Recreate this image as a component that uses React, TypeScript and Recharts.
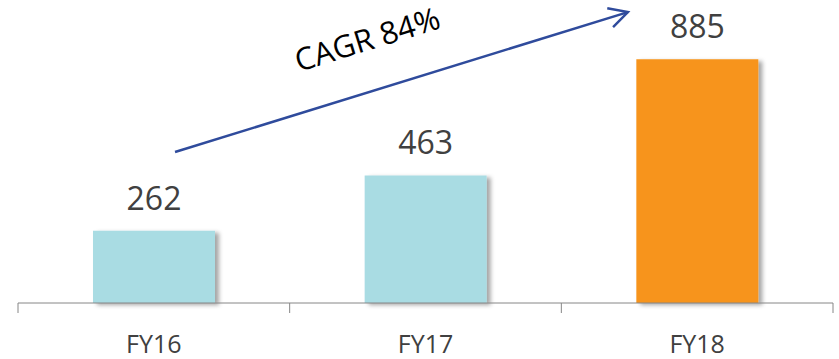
import React from "react";
import {
  BarChart,
  Bar,
  XAxis,
  YAxis,
  Cell,
  LabelList,
  ReferenceLine,
} from "recharts";

const years = ["FY16", "FY17", "FY18"];
const revenue = [262, 463, 885];
const barColors = ["#a9dce3", "#a9dce3", "#f7941d"];
// band centres on a 0..3 index axis, used to place the growth arrow
const bandCentre = [0.5, 1.5, 2.5];

// growth arrow, in data units (x on the 0..3 index axis)
const arrowFrom = { x: 0.578, y: 548 };
const arrowTo = { x: 2.245, y: 1056 };
const cagrText = "CAGR 84%";

const FONT = "'Open Sans', 'Noto Sans', sans-serif";

const data = years.map((year, i) => ({
  year,
  value: revenue[i],
  color: barColors[i],
  pos: bandCentre[i],
}));

function CategoryTick(props: any) {
  const { x, y, payload, index } = props;
  const half = payload?.offset ?? 135.8;
  const last = index === years.length - 1;
  return (
    <g>
      <line x1={x - half} y1={y} x2={x - half} y2={y + 10} stroke="#868686" strokeWidth={1} />
      {last && (
        <line x1={x + half} y1={y} x2={x + half} y2={y + 10} stroke="#868686" strokeWidth={1} />
      )}
      <text x={x} y={y + 50} textAnchor="middle" fill="#404040" fontSize={25} fontFamily={FONT}>
        {payload.value}
      </text>
    </g>
  );
}

function GrowthArrow(props: any) {
  const { x1, y1, x2, y2 } = props;
  if ([x1, y1, x2, y2].some((v) => typeof v !== "number")) return null;
  const dx = x2 - x1;
  const dy = y2 - y1;
  const len = Math.hypot(dx, dy);
  const ux = dx / len;
  const uy = dy / len;
  const ang = Math.atan2(dy, dx);
  const head = 21;
  const spread = (28 * Math.PI) / 180;
  const a1 = ang + Math.PI - spread;
  const a2 = ang + Math.PI + spread;
  // label sits above the shaft, near its first third
  const along = 142;
  const above = 40;
  const tx = x1 + ux * along + uy * above;
  const ty = y1 + uy * along - ux * above;
  return (
    <g>
      <line x1={x1} y1={y1} x2={x2} y2={y2} stroke="#2f4b9c" strokeWidth={2.5} />
      <polyline
        points={`${x2 + Math.cos(a1) * head},${y2 + Math.sin(a1) * head} ${x2},${y2} ${
          x2 + Math.cos(a2) * head
        },${y2 + Math.sin(a2) * head}`}
        fill="none"
        stroke="#2f4b9c"
        strokeWidth={2.5}
      />
      <text
        x={tx}
        y={ty}
        fontSize={31}
        fontFamily={FONT}
        fill="#000"
        transform={`rotate(${(ang * 180) / Math.PI}, ${tx}, ${ty})`}
      >
        {cagrText}
      </text>
    </g>
  );
}

export default function App() {
  return (
    <div style={{ position: "absolute", left: 0, top: 0, background: "#fff" }}>
      <BarChart
        width={839}
        height={359}
        data={data}
        margin={{ top: 0, right: 6, bottom: 0, left: 18 }}
        barCategoryGap={75}
      >
        <defs>
          <filter id="barShadow" x="-10%" y="-10%" width="130%" height="130%">
            <feDropShadow dx={4} dy={2} stdDeviation={2} floodColor="#000" floodOpacity={0.35} />
          </filter>
        </defs>
        <XAxis
          dataKey="year"
          height={56}
          axisLine={{ stroke: "#868686", strokeWidth: 1 }}
          tickLine={false}
          tickSize={0}
          tickMargin={0}
          tick={<CategoryTick />}
          interval={0}
        />
        <XAxis
          xAxisId="idx"
          dataKey="pos"
          type="number"
          scale="linear"
          domain={[0, 3]}
          allowDataOverflow
          height={0}
          hide
        />
        <YAxis domain={[0, 1100]} hide />
        <Bar dataKey="value" isAnimationActive={false} filter="url(#barShadow)">
          {data.map((d) => (
            <Cell key={d.year} fill={d.color} />
          ))}
          <LabelList
            dataKey="value"
            position="top"
            offset={21}
            fill="#404040"
            fontSize={32}
            fontFamily={FONT}
          />
        </Bar>
        <ReferenceLine
          xAxisId="idx"
          segment={[arrowFrom, arrowTo]}
          ifOverflow="visible"
          shape={<GrowthArrow />}
        />
      </BarChart>
    </div>
  );
}
